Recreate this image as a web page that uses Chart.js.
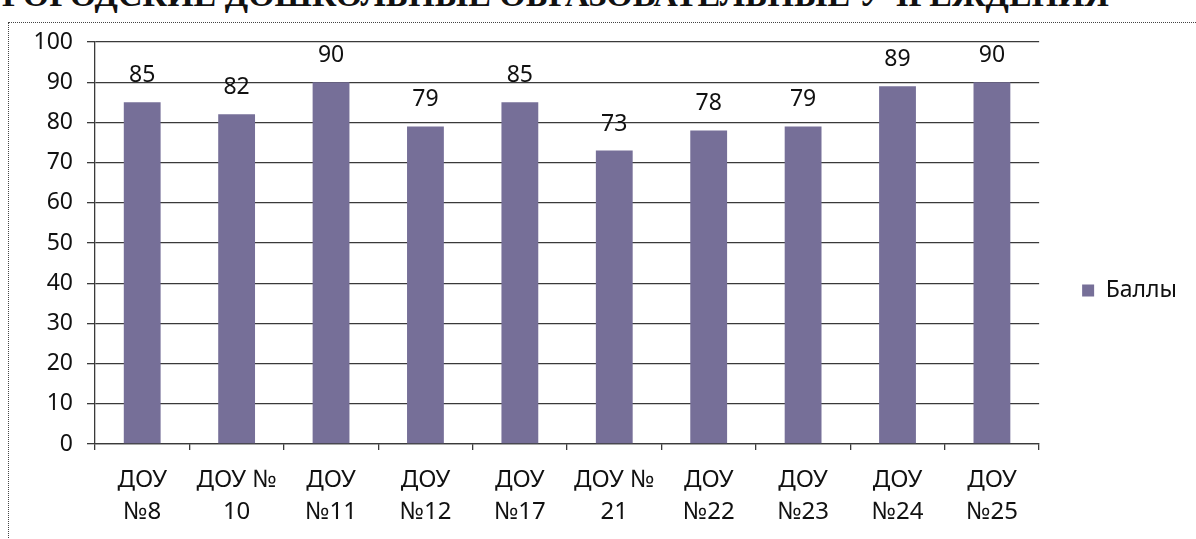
<!DOCTYPE html>
<html>
<head>
<meta charset="utf-8">
<script src="https://cdn.jsdelivr.net/npm/chart.js@4.4.1/dist/chart.umd.min.js"></script>
<style>
    html, body { margin: 0; padding: 0; background: #fff; overflow: hidden; }
    #wrap { position: relative; width: 1196px; height: 539px; overflow: hidden; }
    #title {
        position: absolute; left: 2px; top: -24px; white-space: nowrap;
        font-family: "Liberation Serif", serif; font-weight: bold; font-size: 34px;
        color: #111;
    }
    #frame {
        position: absolute; left: 8px; top: 22px; width: 1300px; height: 600px;
        border: 1px dotted #444;
    }
    #chartBox { position: absolute; left: 0; top: 0; width: 1196px; height: 539px; }
</style>
</head>
<body>
<div id="wrap">
    <div id="title">ГОРОДСКИЕ ДОШКОЛЬНЫЕ ОБРАЗОВАТЕЛЬНЫЕ УЧРЕЖДЕНИЯ</div>
    <div id="frame"></div>
    <div id="chartBox"><canvas id="myChart"></canvas></div>
</div>
<script>
// data
const categories = [['ДОУ', '№8'], ['ДОУ №', '10'], ['ДОУ', '№11'], ['ДОУ', '№12'], ['ДОУ', '№17'],
    ['ДОУ №', '21'], ['ДОУ', '№22'], ['ДОУ', '№23'], ['ДОУ', '№24'], ['ДОУ', '№25']];
const seriesName = 'Баллы';
const scores = [85, 82, 90, 79, 85, 73, 78, 79, 89, 90];
const yTicks = [0, 10, 20, 30, 40, 50, 60, 70, 80, 90, 100];

const fontFamily = '"Noto Sans", sans-serif';
const gridColor = '#3a3a3a';

// value labels above bars
const valueLabels = {
    id: 'valueLabels',
    afterDatasetsDraw(chart) {
        const ctx = chart.ctx;
        const meta = chart.getDatasetMeta(0);
        ctx.save();
        ctx.font = '23px ' + fontFamily;
        ctx.fillStyle = '#111';
        ctx.textAlign = 'center';
        ctx.textBaseline = 'bottom';
        meta.data.forEach((bar, i) => {
            ctx.fillText(scores[i], bar.x, bar.y - 15);
        });
        ctx.restore();
    }
};

// push the legend to the right like the original
const legendShift = {
    id: 'legendShift',
    afterLayout(chart) {
        chart.legend.left += 33;
        chart.legend.right += 33;
    }
};

const ctx = document.getElementById('myChart').getContext('2d');
const myChart = new Chart(ctx, {
    type: 'bar',
    data: {
        labels: categories,
        datasets: [{
            label: seriesName,
            data: scores,
            backgroundColor: '#766f98',
            borderWidth: 0,
            categoryPercentage: 1,
            barPercentage: 0.39
        }]
    },
    options: {
        responsive: true,
        maintainAspectRatio: false,
        animation: false,
        layout: {
            padding: { top: 42, right: 42, bottom: 0, left: 0 }
        },
        scales: {
            y: {
                min: 0,
                max: 100,
                afterFit: (scale) => { scale.width = 95; },
                afterBuildTicks: (scale) => { scale.ticks = yTicks.map(v => ({ value: v })); },
                ticks: {
                    color: '#111',
                    padding: 14,
                    font: { family: fontFamily, size: 23 }
                },
                grid: {
                    color: gridColor,
                    lineWidth: 1.3,
                    tickLength: 8
                },
                border: { color: gridColor, width: 1.3 }
            },
            x: {
                afterFit: (scale) => { scale.height = 95; },
                ticks: {
                    color: '#111',
                    padding: 15,
                    maxRotation: 0,
                    autoSkip: false,
                    font: { family: fontFamily, size: 24, lineHeight: 1.3 }
                },
                grid: {
                    drawOnChartArea: false,
                    drawTicks: true,
                    tickLength: 6,
                    color: gridColor,
                    lineWidth: 1.3
                },
                border: { color: gridColor, width: 1.3 }
            }
        },
        plugins: {
            legend: {
                position: 'right',
                labels: {
                    boxWidth: 12,
                    boxHeight: 12,
                    padding: 10,
                    color: '#111',
                    font: { family: fontFamily, size: 23 }
                }
            },
            tooltip: { enabled: false }
        }
    },
    plugins: [valueLabels, legendShift]
});
</script>
</body>
</html>
